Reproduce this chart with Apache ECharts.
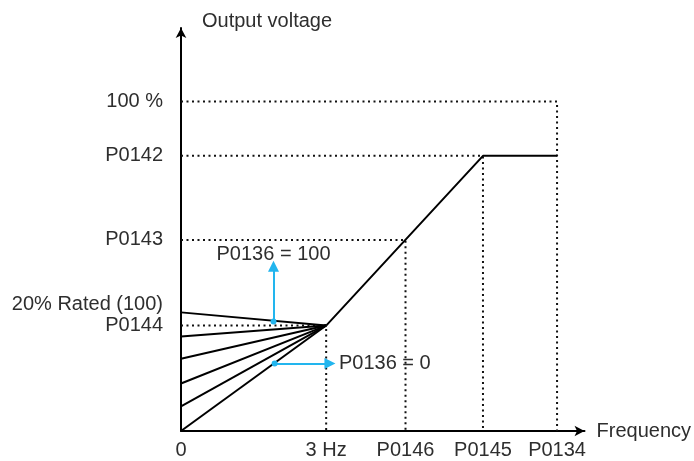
<!DOCTYPE html>
<html>
<head>
<meta charset="utf-8">
<script src="https://cdn.jsdelivr.net/npm/echarts@6/dist/echarts.min.js"></script>
<style>
  html, body { margin: 0; padding: 0; background: #fff; }
  #chart { width: 694px; height: 461px; }
</style>
</head>
<body>
<div id="chart"></div>
<script>
// Frequency axis: tick names and their positions (relative units, P0134 = 100)
const freqTicks = ['0', '3 Hz', 'P0146', 'P0145', 'P0134'];
const freqPos = [0, 38.6, 59.7, 80.3, 100];
const freqAxisMax = 107.3;

// Output voltage axis: tick names and their positions (100 % = 100)
const voltTicks = ['100 %', 'P0142', 'P0143', '20% Rated (100)', 'P0144'];
const voltPos = [100, 83.5, 58.0, 36.0, 32.0];
const voltAxisMax = 122.3;

// Torque boost (P0136) starting voltages at 0 Hz, from 20% rated down to 0
const boostStarts = [36.0, 28.7, 21.9, 14.4, 7.5, 0];

// V/f curve: 3 Hz / P0144 -> P0145 / P0142 -> P0134 / P0142
const curveFreq = [38.6, 80.3, 100];
const curveVolt = [32.0, 83.5, 83.5];

// P0136 annotation arrows: [x1, y1, x2, y2]
const arrowUp = [24.6, 33.2, 24.6, 50.0];
const arrowRight = [24.9, 20.5, 39.6, 20.5];

const FONT = '"Liberation Sans", Arial, sans-serif';
const FS = 20;
const TEXT = '#2e2e2e';
const BLUE = '#22b5ee';

const series = [];

// dotted guide lines from each y level across, then down to the x axis
const guides = [
  [[0, voltPos[0]], [freqPos[4], voltPos[0]], [freqPos[4], 0]],
  [[0, voltPos[1]], [freqPos[3], voltPos[1]], [freqPos[3], 0]],
  [[0, voltPos[2]], [freqPos[2], voltPos[2]], [freqPos[2], 0]],
  [[0, voltPos[4]], [freqPos[1], voltPos[4]], [freqPos[1], 0]]
];
guides.forEach(g => series.push({
  type: 'line', data: g, symbol: 'none', silent: true, z: 1,
  lineStyle: { color: '#111', width: 2, type: [2, 3.5] }
}));

// boost lines fanning into the 3 Hz point
boostStarts.forEach(v => series.push({
  type: 'line', data: [[0, v], [curveFreq[0], curveVolt[0]]],
  symbol: 'none', silent: true, z: 3,
  lineStyle: { color: '#000', width: 2 }
}));

// main V/f curve
series.push({
  type: 'line', data: curveFreq.map((f, i) => [f, curveVolt[i]]),
  symbol: 'none', silent: true, z: 3,
  lineStyle: { color: '#000', width: 2 }
});

// blue arrows with P0136 labels: dot at the start, triangle head at the end
const tail = { symbol: 'circle', symbolSize: 6 };
const head = { symbol: 'triangle', symbolSize: 11 };
series.push({
  type: 'line', data: [], silent: true,
  markLine: {
    silent: true,
    lineStyle: { color: BLUE, width: 2, type: 'solid' },
    label: {
      show: true, position: 'end', color: TEXT,
      fontFamily: FONT, fontSize: FS
    },
    data: [
      [
        Object.assign({ coord: [arrowUp[0], arrowUp[1]] }, tail),
        Object.assign({ coord: [arrowUp[2], arrowUp[3]], label: { formatter: 'P0136 = 100', distance: 2 } }, head)
      ],
      [
        Object.assign({ coord: [arrowRight[0], arrowRight[1]] }, tail),
        Object.assign({ coord: [arrowRight[2], arrowRight[3]], label: { formatter: 'P0136 = 0', distance: 9 } }, head)
      ]
    ]
  }
});

const chart = echarts.init(document.getElementById('chart'));
chart.setOption({
  animation: false,
  backgroundColor: '#fff',
  grid: { left: 181, right: 109, top: 28, bottom: 30, containLabel: false },
  xAxis: {
    type: 'value', min: 0, max: freqAxisMax,
    name: 'Frequency', nameLocation: 'end', nameGap: 12,
    nameTextStyle: { color: TEXT, fontFamily: FONT, fontSize: FS, verticalAlign: 'middle' },
    axisLine: { show: true, symbol: ['none', 'arrow'], symbolSize: [8, 10], lineStyle: { color: '#000', width: 2 } },
    axisTick: { show: false },
    splitLine: { show: false },
    axisLabel: {
      customValues: freqPos,
      color: TEXT, fontFamily: FONT, fontSize: FS, margin: 9,
      formatter: v => freqTicks[freqPos.indexOf(v)] || ''
    }
  },
  yAxis: {
    type: 'value', min: 0, max: voltAxisMax,
    name: 'Output voltage', nameLocation: 'end', nameGap: -3,
    nameTextStyle: { color: TEXT, fontFamily: FONT, fontSize: FS, align: 'left', padding: [0, 0, 0, 21] },
    axisLine: { show: true, symbol: ['none', 'arrow'], symbolSize: [8, 10], lineStyle: { color: '#000', width: 2 } },
    axisTick: { show: false },
    splitLine: { show: false },
    axisLabel: {
      customValues: voltPos,
      color: TEXT, fontFamily: FONT, fontSize: FS, margin: 18,
      formatter: v => {
        const name = voltTicks[voltPos.indexOf(v)] || '';
        return name.indexOf('Rated') >= 0 ? '{up|' + name + '}' : name;
      },
      rich: {
        up: { color: TEXT, fontFamily: FONT, fontSize: FS, padding: [0, 0, 16, 0] }
      }
    }
  },
  series: series
});
</script>
</body>
</html>
